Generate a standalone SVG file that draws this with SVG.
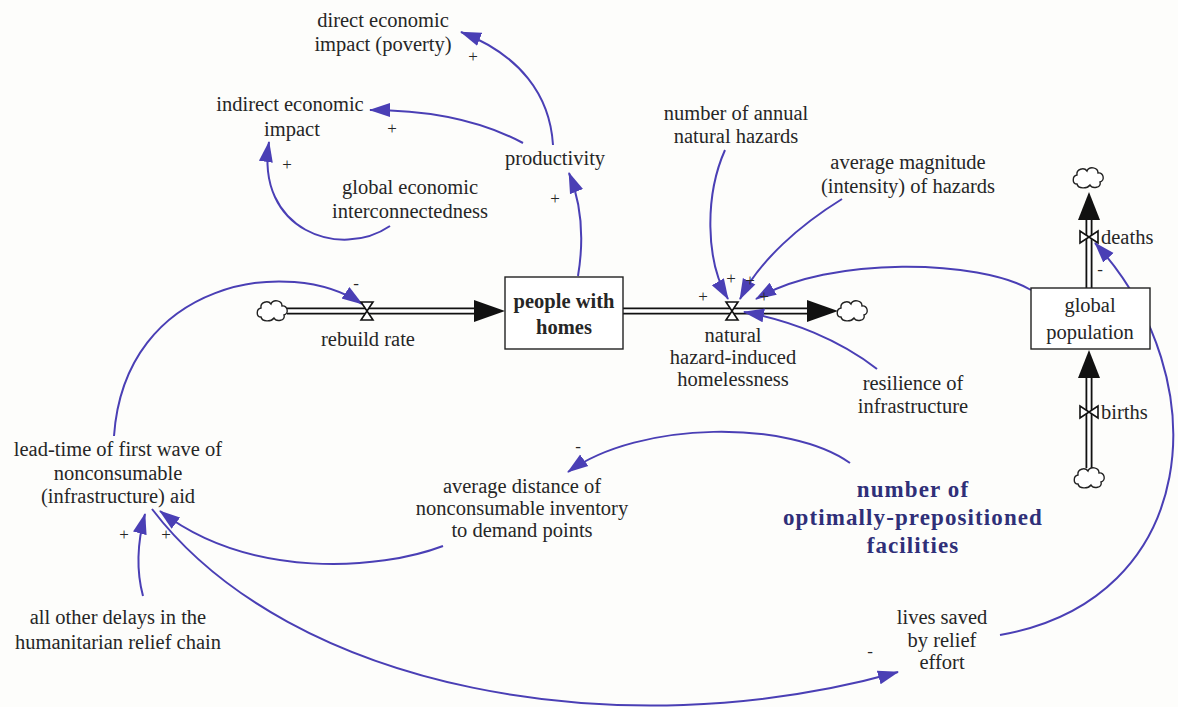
<svg xmlns="http://www.w3.org/2000/svg" width="1178" height="707" viewBox="0 0 1178 707" font-family="Liberation Serif, Times New Roman, Tinos, DejaVu Serif, serif">
  <style>
    text { font-size: 20.5px; fill: #262626; text-anchor: middle; }
    .bold { font-weight: bold; }
    .key { font-weight: bold; font-size: 23px; fill: #2f2f78; letter-spacing: 1.1px; }
    .sign { font-size: 17px; }
    .left { text-anchor: start; }
    .link { fill: none; stroke: #4a3fb5; stroke-width: 2; marker-end: url(#arrow); }
    .pipeOuter { fill: none; stroke: #111; stroke-width: 7; }
    .pipeInner { fill: none; stroke: #fff; stroke-width: 3.4; }
    .cloud { fill: #fff; stroke: #222; stroke-width: 1.4; }
    .valve { fill: #fff; stroke: #111; stroke-width: 1.6; stroke-linejoin: miter; }
    .stock { fill: #fff; stroke: #222; stroke-width: 1.4; }
    .flowhead { fill: #111; }
  </style>
  <defs>
    <marker id="arrow" markerUnits="userSpaceOnUse" markerWidth="22" markerHeight="16" refX="20" refY="8" orient="auto">
      <path d="M0,1 L21,8 L0,15 z" fill="#4a3fb5"/>
    </marker>
    <path id="cloudShape" class="cloud" d="M-12,6 C-17,6 -17,-2 -12,-3 C-13,-9 -5,-11 -2,-7 C0,-12 9,-11 9,-5 C15,-6 16,3 11,4 C13,10 3,11 1,7 C-2,11 -11,11 -12,6 Z"/>
    <path id="valveH" class="valve" d="M-6,-9 L6,-9 L-6,9 L6,9 Z"/>
    <path id="valveV" class="valve" d="M-9,-6 L-9,6 L9,-6 L9,6 Z"/>
  </defs>

  <rect width="1178" height="707" fill="#fdfdfb"/>

  <!-- flow pipes (material flows) -->
  <g id="flows">
    <path class="pipeOuter" d="M287,311 H478"/>
    <path class="pipeInner" d="M287,311 H478"/>
    <path class="flowhead" d="M474,300 L505,311 L474,322 Z"/>

    <path class="pipeOuter" d="M623,311 H810"/>
    <path class="pipeInner" d="M623,311 H810"/>
    <path class="flowhead" d="M807,300 L838,311 L807,322 Z"/>

    <path class="pipeOuter" d="M1089,288 V215"/>
    <path class="pipeInner" d="M1089,289 V215"/>
    <path class="flowhead" d="M1078,220 L1089,192 L1100,220 Z"/>

    <path class="pipeOuter" d="M1089,468 V375"/>
    <path class="pipeInner" d="M1089,468 V375"/>
    <path class="flowhead" d="M1078,378 L1089,350 L1100,378 Z"/>
  </g>

  <!-- sources and sinks -->
  <g id="clouds">
    <use href="#cloudShape" x="273" y="311"/>
    <use href="#cloudShape" x="853" y="311"/>
    <use href="#cloudShape" x="1089" y="178"/>
    <use href="#cloudShape" x="1090" y="478"/>
  </g>

  <!-- causal links -->
  <g id="links">
    <path class="link" d="M578,276 C584,240 582,205 569,173"/>
    <path class="link" d="M553,145 C550,95 520,55 461,32"/>
    <path class="link" d="M523,143 C480,120 430,110 370,110"/>
    <path class="link" d="M390,226 C340,260 255,230 269,142"/>
    <path class="link" d="M725,150 C705,195 705,260 728,299"/>
    <path class="link" d="M842,199 C800,225 760,260 740,299"/>
    <path class="link" d="M1031,290 C980,260 830,255 756,299"/>
    <path class="link" d="M877,369 C840,340 790,320 744,312"/>
    <path class="link" d="M114,436 C125,280 290,255 362,304"/>
    <path class="link" d="M850,463 C790,420 640,420 568,472"/>
    <path class="link" d="M443,546 C380,570 250,580 160,511"/>
    <path class="link" d="M152,509 C290,690 620,750 898,672"/>
    <path class="link" d="M1000,635 C1200,600 1220,380 1095,243"/>
    <path class="link" d="M143,596 C136,570 138,540 145,514"/>
  </g>

  <!-- link polarities -->
  <g id="polarities">
    <text class="sign" x="473" y="62">+</text>
    <text class="sign" x="392" y="134">+</text>
    <text class="sign" x="287" y="170">+</text>
    <text class="sign" x="555" y="204">+</text>
    <text class="sign" x="356" y="289">-</text>
    <text class="sign" x="703" y="302">+</text>
    <text class="sign" x="731" y="284">+</text>
    <text class="sign" x="750" y="286">+</text>
    <text class="sign" x="764" y="302">+</text>
    <text class="sign" x="1100" y="275">-</text>
    <text class="sign" x="578" y="452">-</text>
    <text class="sign" x="124" y="540">+</text>
    <text class="sign" x="166" y="540">+</text>
    <text class="sign" x="870" y="657">-</text>
  </g>

  <!-- stocks -->
  <g id="people-with-homes">
    <rect class="stock" x="505" y="277" width="118" height="72"/>
    <text class="bold" x="564" y="308">people with</text>
    <text class="bold" x="564" y="334">homes</text>
  </g>
  <g id="global-population">
    <rect class="stock" x="1031" y="288" width="119" height="61"/>
    <text x="1090" y="312">global</text>
    <text x="1090" y="339">population</text>
  </g>

  <!-- rates -->
  <g id="rebuild-rate">
    <use href="#valveH" x="367" y="311"/>
    <text x="368" y="346">rebuild rate</text>
  </g>
  <g id="natural-hazard-induced-homelessness">
    <use href="#valveH" x="732" y="311"/>
    <text x="733" y="342">natural</text>
    <text x="733" y="364">hazard-induced</text>
    <text x="733" y="386">homelessness</text>
  </g>
  <g id="deaths">
    <use href="#valveV" x="1089" y="237"/>
    <text class="left" x="1101" y="244">deaths</text>
  </g>
  <g id="births">
    <use href="#valveV" x="1089" y="412"/>
    <text class="left" x="1101" y="419">births</text>
  </g>

  <!-- auxiliary variables -->
  <g id="direct-economic-impact">
    <text x="383" y="27">direct economic</text>
    <text x="383" y="51">impact (poverty)</text>
  </g>
  <g id="indirect-economic-impact">
    <text x="290" y="111">indirect economic</text>
    <text x="292" y="136">impact</text>
  </g>
  <g id="productivity">
    <text x="555" y="165">productivity</text>
  </g>
  <g id="global-economic-interconnectedness">
    <text x="410" y="194">global economic</text>
    <text x="410" y="218">interconnectedness</text>
  </g>
  <g id="number-of-annual-natural-hazards">
    <text x="736" y="120">number of annual</text>
    <text x="736" y="143">natural hazards</text>
  </g>
  <g id="average-magnitude">
    <text x="908" y="169">average magnitude</text>
    <text x="908" y="193">(intensity) of hazards</text>
  </g>
  <g id="resilience-of-infrastructure">
    <text x="913" y="390">resilience of</text>
    <text x="913" y="413">infrastructure</text>
  </g>
  <g id="lead-time">
    <text x="118" y="456">lead-time of first wave of</text>
    <text x="118" y="480">nonconsumable</text>
    <text x="118" y="503">(infrastructure) aid</text>
  </g>
  <g id="average-distance">
    <text x="522" y="493">average distance of</text>
    <text x="522" y="515">nonconsumable inventory</text>
    <text x="522" y="537">to demand points</text>
  </g>
  <g id="number-of-optimally-prepositioned-facilities">
    <text class="key" x="913" y="497">number of</text>
    <text class="key" x="913" y="525">optimally-prepositioned</text>
    <text class="key" x="913" y="553">facilities</text>
  </g>
  <g id="all-other-delays">
    <text x="118" y="624">all other delays in the</text>
    <text x="118" y="649">humanitarian relief chain</text>
  </g>
  <g id="lives-saved">
    <text x="942" y="624">lives saved</text>
    <text x="942" y="647">by relief</text>
    <text x="942" y="669">effort</text>
  </g>
</svg>
